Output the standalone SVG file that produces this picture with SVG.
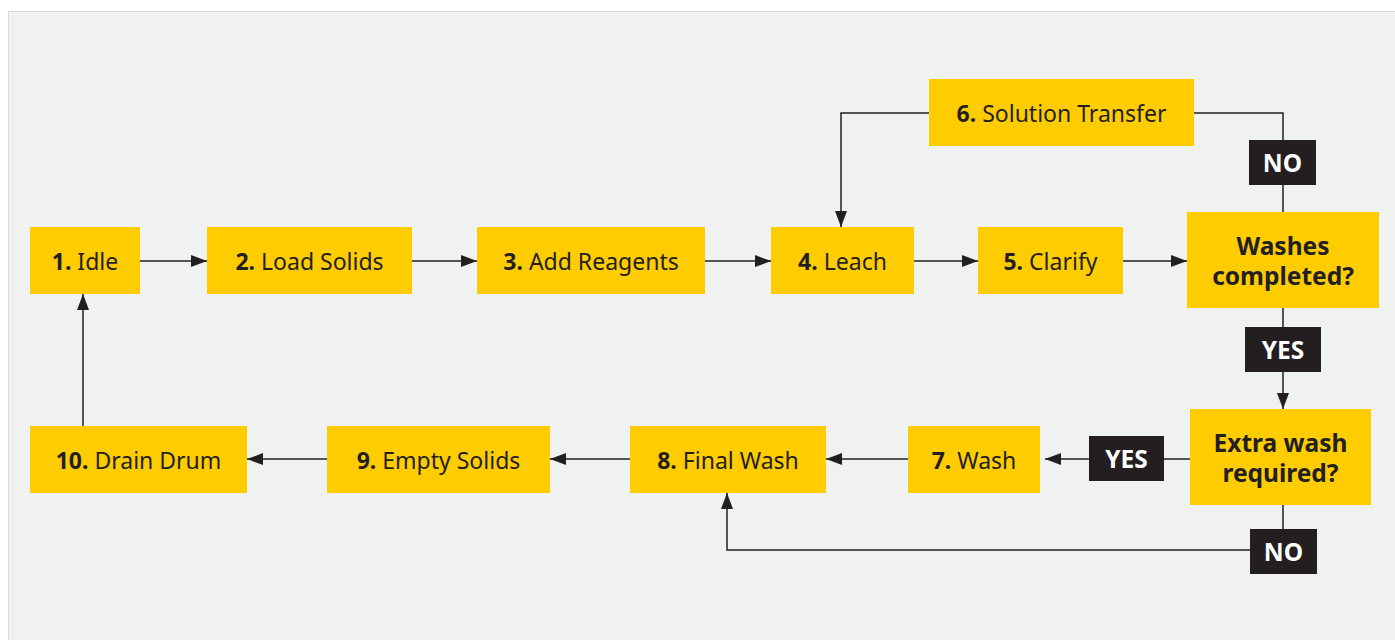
<svg xmlns="http://www.w3.org/2000/svg" width="1395" height="640" viewBox="0 0 1395 640">
<style>
.box{fill:#ffcc00}
.lab{fill:#231f20}
.t{font-family:"Noto Sans",Lato,sans-serif;font-size:23px;fill:#231f20;text-anchor:middle;dominant-baseline:central}
.b{font-weight:bold}
.d{font-size:24.5px}
.lt{font-family:"Noto Sans",Lato,sans-serif;font-size:24.5px;font-weight:bold;fill:#ffffff;text-anchor:middle;dominant-baseline:central}
.c{fill:none;stroke:#231f20;stroke-width:1.5}
</style>
<defs>
<marker id="ah" viewBox="0 0 16 12" refX="16" refY="6" markerWidth="16" markerHeight="12" markerUnits="userSpaceOnUse" orient="auto">
<path d="M0,0 L16,6 L0,12 Z" fill="#231f20"/>
</marker>
</defs>
<rect x="0" y="0" width="1395" height="640" fill="#ffffff"/>
<rect x="8.5" y="11.5" width="1400" height="640" fill="#f0f2f1" stroke="#d9d9d9" stroke-width="1"/>
<g id="connectors">
<path class="c" d="M140,261 H207" marker-end="url(#ah)"/>
<path class="c" d="M412,261 H477" marker-end="url(#ah)"/>
<path class="c" d="M705,261 H771" marker-end="url(#ah)"/>
<path class="c" d="M914,261 H978" marker-end="url(#ah)"/>
<path class="c" d="M1123,261 H1187" marker-end="url(#ah)"/>
<path class="c" d="M1194,113 H1283 V212"/>
<path class="c" d="M929,113 H841 V227" marker-end="url(#ah)"/>
<path class="c" d="M1283,308 V409" marker-end="url(#ah)"/>
<path class="c" d="M1190,459 H1045" marker-end="url(#ah)"/>
<path class="c" d="M908,459 H826" marker-end="url(#ah)"/>
<path class="c" d="M630,459 H550" marker-end="url(#ah)"/>
<path class="c" d="M327,459 H247" marker-end="url(#ah)"/>
<path class="c" d="M83,426 V294" marker-end="url(#ah)"/>
<path class="c" d="M1283,505 V550 H727 V493" marker-end="url(#ah)"/>
</g>
<g id="n1"><rect class="box" x="30" y="227" width="110" height="67"/><text class="t" x="85" y="261"><tspan class="b">1.</tspan> Idle</text></g>
<g id="n2"><rect class="box" x="207" y="227" width="205" height="67"/><text class="t" x="309.5" y="261"><tspan class="b">2.</tspan> Load Solids</text></g>
<g id="n3"><rect class="box" x="477" y="227" width="228" height="67"/><text class="t" x="591" y="261"><tspan class="b">3.</tspan> Add Reagents</text></g>
<g id="n4"><rect class="box" x="771" y="227" width="143" height="67"/><text class="t" x="842.5" y="261"><tspan class="b">4.</tspan> Leach</text></g>
<g id="n5"><rect class="box" x="978" y="227" width="145" height="67"/><text class="t" x="1050.5" y="261"><tspan class="b">5.</tspan> Clarify</text></g>
<g id="n6"><rect class="box" x="929" y="79" width="265" height="67"/><text class="t" x="1061.5" y="113"><tspan class="b">6.</tspan> Solution Transfer</text></g>
<g id="d1"><rect class="box" x="1187" y="212" width="192" height="96"/><text class="t b d" x="1283" y="245">Washes</text><text class="t b d" x="1283" y="275">completed?</text></g>
<g id="d2"><rect class="box" x="1190" y="409" width="181" height="96"/><text class="t b d" x="1280.5" y="442">Extra wash</text><text class="t b d" x="1280.5" y="472">required?</text></g>
<g id="n7"><rect class="box" x="908" y="426" width="132" height="67"/><text class="t" x="974" y="460"><tspan class="b">7.</tspan> Wash</text></g>
<g id="n8"><rect class="box" x="630" y="426" width="196" height="67"/><text class="t" x="728" y="460"><tspan class="b">8.</tspan> Final Wash</text></g>
<g id="n9"><rect class="box" x="327" y="426" width="223" height="67"/><text class="t" x="438.5" y="460"><tspan class="b">9.</tspan> Empty Solids</text></g>
<g id="n10"><rect class="box" x="30" y="426" width="217" height="67"/><text class="t" x="138.5" y="460"><tspan class="b">10.</tspan> Drain Drum</text></g>
<g id="l1"><rect class="lab" x="1249" y="140" width="67" height="45"/><text class="lt" x="1282.5" y="162">NO</text></g>
<g id="l2"><rect class="lab" x="1245" y="327" width="76" height="45"/><text class="lt" x="1283" y="349">YES</text></g>
<g id="l3"><rect class="lab" x="1089" y="436" width="75" height="45"/><text class="lt" x="1126.5" y="458">YES</text></g>
<g id="l4"><rect class="lab" x="1250" y="529" width="67" height="45"/><text class="lt" x="1283.5" y="551">NO</text></g>
</svg>
